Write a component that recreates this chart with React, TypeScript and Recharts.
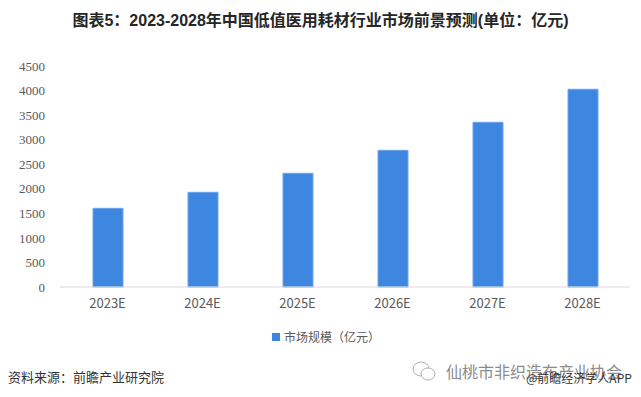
import React from "react";
import { BarChart, Bar, XAxis, YAxis } from "recharts";

const categories = ["2023E", "2024E", "2025E", "2026E", "2027E", "2028E"];
const marketSize = [1602, 1928, 2315, 2783, 3354, 4026];
const yTicks = [0, 500, 1000, 1500, 2000, 2500, 3000, 3500, 4000, 4500];
const seriesName = "市场规模（亿元）";
const titleText = "图表5：2023-2028年中国低值医用耗材行业市场前景预测(单位：亿元)";
const sourceText = "资料来源：前瞻产业研究院";
const wmText1 = "仙桃市非织造布产业协会";
const wmText2 = "@前瞻经济学人APP";

const data = categories.map((c, i) => ({ name: c, value: marketSize[i] }));

const CJK = "'Noto Sans CJK SC', 'Noto Sans', sans-serif";

export default function App() {
  return (
    <div style={{ position: "absolute", left: 0, top: 0, width: 641, height: 397, background: "#fff", overflow: "hidden" }}>
      <div
        style={{
          position: "absolute",
          top: 10,
          left: 0,
          width: 641,
          textAlign: "center",
          fontFamily: "'Liberation Sans', 'Noto Sans CJK SC', sans-serif",
          fontWeight: "bold",
          fontSize: 16,
          color: "#262626",
          lineHeight: "22px",
        }}
      >
        {titleText}
      </div>
      <BarChart
        width={641}
        height={397}
        data={data}
        margin={{ top: 66, right: 11, left: 0, bottom: 80 }}
        style={{ position: "absolute", left: 0, top: 0 }}
      >
        <XAxis
          dataKey="name"
          axisLine={{ stroke: "#d9d9d9" }}
          tickLine={false}
          tickSize={0}
          tickMargin={12}
          tick={{ fill: "#595959", fontSize: 13, fontFamily: CJK }}
          height={30}
        />
        <YAxis
          domain={[0, 4500]}
          ticks={yTicks}
          axisLine={false}
          tickLine={false}
          tickSize={0}
          tickMargin={15}
          width={60}
          tick={{ fill: "#595959", fontSize: 13, fontFamily: "'Liberation Serif', serif" }}
          interval={0}
        />
        <Bar
          dataKey="value"
          name={seriesName}
          fill="#3d87e1"
          stroke="#6ea4ee"
          strokeWidth={1}
          barSize={30}
          isAnimationActive={false}
        />
      </BarChart>
      <div
        style={{
          position: "absolute",
          left: 272,
          top: 328,
          display: "flex",
          alignItems: "center",
          fontFamily: CJK,
          fontSize: 12,
          color: "#595959",
          lineHeight: "18px",
        }}
      >
        <span style={{ display: "inline-block", width: 8, height: 8, background: "#3d87e1", marginRight: 4 }} />
        <span>{seriesName}</span>
      </div>
      <div
        style={{
          position: "absolute",
          left: 8,
          top: 368,
          fontFamily: CJK,
          fontSize: 13,
          color: "#333",
          lineHeight: "18px",
        }}
      >
        {sourceText}
      </div>
      <svg width={28} height={24} style={{ position: "absolute", left: 411, top: 359 }}>
        <ellipse cx={10} cy={10} rx={8} ry={7} fill="none" stroke="#b0b0b0" strokeWidth={1} />
        <ellipse cx={17} cy={15} rx={7} ry={6} fill="#fff" stroke="#b0b0b0" strokeWidth={1} />
      </svg>
      <div
        style={{
          position: "absolute",
          left: 446,
          top: 361,
          fontFamily: CJK,
          fontSize: 16,
          color: "#8c8c8c",
          lineHeight: "20px",
          whiteSpace: "nowrap",
        }}
      >
        {wmText1}
      </div>
      <div
        style={{
          position: "absolute",
          left: 526,
          top: 370,
          fontFamily: CJK,
          fontSize: 12,
          color: "#333",
          lineHeight: "16px",
          whiteSpace: "nowrap",
        }}
      >
        {wmText2}
      </div>
    </div>
  );
}
